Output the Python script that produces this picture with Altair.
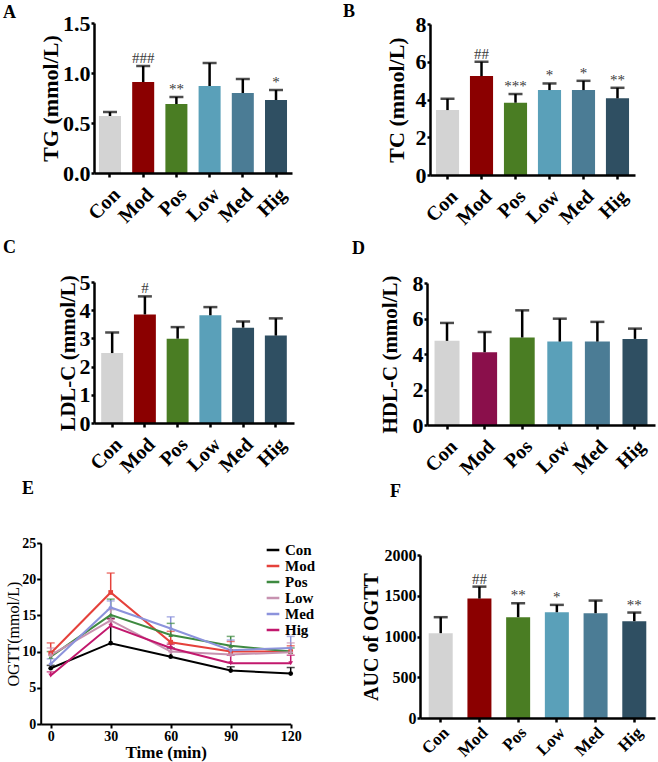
import altair as alt
import pandas as pd

# ---------------------------------------------------------------- data
groups = ["Con", "Mod", "Pos", "Low", "Med", "Hig"]

tg_mean = [0.57, 0.91, 0.69, 0.87, 0.80, 0.73]
tg_sd = [0.04, 0.16, 0.07, 0.23, 0.14, 0.10]
tg_sig = ["", "###", "**", "", "", "*"]

tc_mean = [3.44, 5.24, 3.83, 4.50, 4.50, 4.06]
tc_sd = [0.60, 0.76, 0.46, 0.35, 0.49, 0.56]
tc_sig = ["", "##", "***", "*", "*", "**"]

ldl_mean = [2.48, 3.85, 2.99, 3.82, 3.38, 3.10]
ldl_sd = [0.73, 0.64, 0.41, 0.29, 0.22, 0.61]
ldl_sig = ["", "#", "", "", "", ""]

hdl_mean = [4.74, 4.10, 4.93, 4.70, 4.70, 4.85]
hdl_sd = [1.01, 1.14, 1.53, 1.29, 1.11, 0.58]
hdl_sig = ["", "", "", "", "", ""]

auc_mean = [1041, 1465, 1237, 1298, 1286, 1188]
auc_sd = [196, 147, 171, 90, 155, 106]
auc_sig = ["", "##", "**", "*", "", "**"]

times = [0, 30, 60, 90, 120]
ogtt_mean = {
    "Con": [7.70, 11.16, 9.30, 7.38, 6.97],
    "Mod": [9.78, 18.17, 11.30, 10.00, 10.00],
    "Pos": [9.30, 15.08, 12.30, 10.80, 10.00],
    "Low": [9.50, 14.30, 10.00, 9.60, 9.90],
    "Med": [8.30, 16.10, 13.20, 10.20, 10.50],
    "Hig": [6.70, 13.56, 10.50, 8.40, 8.40],
}
ogtt_sd = {
    "Con": [0.40, 3.44, 1.20, 0.52, 0.83],
    "Mod": [1.42, 2.68, 1.50, 1.40, 0.80],
    "Pos": [0.70, 2.17, 1.60, 1.30, 0.50],
    "Low": [1.00, 1.50, 1.20, 1.10, 1.30],
    "Med": [0.70, 0.90, 1.60, 1.40, 1.60],
    "Hig": [0.50, 0.94, 0.50, 1.10, 1.10],
}

# ---------------------------------------------------------------- styling
SERIF = "Liberation Serif"
W, H = 658, 762

bar_colors = ["#d3d3d3", "#8b0000", "#4a7d23", "#5aa0b9", "#4b7c95", "#2f4f62"]
ldl_colors = ["#d3d3d3", "#8b0000", "#4a7d23", "#5aa0b9", "#2f4f62", "#2f4f62"]
hdl_colors = ["#d3d3d3", "#8a0f4b", "#4a7d23", "#5aa0b9", "#4b7c95", "#2f4f62"]
line_colors = ["#000000", "#e5413b", "#3e8a40", "#c792b0", "#8c93dc", "#c2186d"]
line_shapes = ["circle", "square", "triangle-up", "cross", "diamond", "triangle-down"]


def bar_panel(mean, sd, sig, colors, title, y_max, y_ticks, y_fmt,
              x_px, y_px, pad_inner, pad_outer,
              tick_font=22, label_font=20, title_font=22, title_pad=4,
              label_pad=7):
    df = pd.DataFrame({
        "group": groups,
        "mean": mean,
        "upper": [m + s for m, s in zip(mean, sd)],
        "sig": sig,
    })
    xs = alt.Scale(domain=groups, range=list(x_px),
                   paddingInner=pad_inner, paddingOuter=pad_outer)
    ys = alt.Scale(domain=[0, y_max], range=list(y_px), nice=False, zero=True)

    # axes sit at the panel's own origin, pushed inward from the canvas edges
    x_axis = alt.Axis(
        orient="bottom", title=None, labelAngle=315, labelAlign="right",
        labelBaseline="top",
        labelFont=SERIF, labelFontWeight="bold", labelFontSize=label_font,
        labelColor="black", labelPadding=label_pad,
        domainColor="black", domainWidth=2.5,
        tickColor="black", tickWidth=2.5, tickSize=4,
        offset=y_px[0] - H, zindex=1,
    )
    y_axis = alt.Axis(
        orient="left", title=title, values=y_ticks, format=y_fmt, grid=False,
        labelFont=SERIF, labelFontWeight="bold", labelFontSize=tick_font,
        labelColor="black", labelPadding=1,
        titleFont=SERIF, titleFontWeight="bold", titleFontSize=title_font,
        titleColor="black", titlePadding=title_pad,
        domainColor="black", domainWidth=2.5,
        tickColor="black", tickWidth=2.5, tickSize=3,
        offset=-x_px[0], zindex=1,
    )
    X = alt.X("group:N", scale=xs, axis=x_axis, sort=groups)

    base = alt.Chart(df)
    bars = base.mark_bar().encode(
        x=X,
        y=alt.Y("mean:Q", scale=ys, axis=y_axis),
        color=alt.Color("group:N", scale=alt.Scale(domain=groups, range=colors),
                        legend=None),
    )
    stems = base.mark_rule(color="black", strokeWidth=2.5).encode(
        x=X, y=alt.Y("mean:Q", scale=ys, axis=y_axis), y2="upper:Q",
    )
    caps = base.mark_tick(color="black", thickness=2.5, size=14,
                          orient="horizontal").encode(
        x=X, y=alt.Y("upper:Q", scale=ys, axis=y_axis),
    )
    marks = base.mark_text(font=SERIF, fontSize=15, color="#3a3a3a",
                           baseline="alphabetic", dy=-3).encode(
        x=X, y=alt.Y("upper:Q", scale=ys, axis=y_axis), text="sig:N",
    )
    return alt.layer(bars, stems, caps, marks)


panel_a = bar_panel(tg_mean, tg_sd, tg_sig, bar_colors, "TG (mmol/L)",
                    1.5, [0, 0.5, 1.0, 1.5], ".1f",
                    (94, 292), (173, 23), 0.337, 0.15, title_pad=0)
panel_b = bar_panel(tc_mean, tc_sd, tc_sig, bar_colors, "TC (mmol/L)",
                    8, [0, 2, 4, 6, 8], "d",
                    (430, 635), (175, 24), 0.32, 0.175, title_pad=7)
panel_c = bar_panel(ldl_mean, ldl_sd, ldl_sig, ldl_colors, "LDL-C (mmol/L)",
                    5, [0, 1, 2, 3, 4, 5], "d",
                    (94, 294), (423, 282), 0.33, 0.22, title_font=21,
                    title_pad=1)
panel_d = bar_panel(hdl_mean, hdl_sd, hdl_sig, hdl_colors, "HDL-C (mmol/L)",
                    8, [0, 2, 4, 6, 8], "d",
                    (427, 655), (425, 283), 0.335, 0.2, title_font=21,
                    title_pad=12)
panel_f = bar_panel(auc_mean, auc_sd, auc_sig, bar_colors, "AUC of OGTT",
                    2000, [0, 500, 1000, 1500, 2000], "d",
                    (420, 655), (718, 555), 0.38, 0.225,
                    tick_font=16, label_font=17, title_font=20, title_pad=3,
                    label_pad=2)

# ---------------------------------------------------------------- OGTT curves
rows = []
for g in groups:
    for t, m, s in zip(times, ogtt_mean[g], ogtt_sd[g]):
        rows.append({"group": g, "time": t, "mean": m, "upper": m + s})
ogtt = pd.DataFrame(rows)

ex = alt.Scale(domain=[-5, 120], range=[40.7, 290.7], nice=False, zero=False)
ey = alt.Scale(domain=[0, 25], range=[724, 543], nice=False, zero=True)
ecol = alt.Scale(domain=groups, range=line_colors)

e_x_axis = alt.Axis(
    orient="bottom", title="Time (min)", values=times, grid=False,
    labelFlush=False,
    labelFont=SERIF, labelFontWeight="bold", labelFontSize=14,
    labelColor="black", labelPadding=1,
    titleFont=SERIF, titleFontWeight="bold", titleFontSize=17,
    titleColor="black", titleY=28, titleBaseline="middle",
    domainColor="black", domainWidth=2, tickColor="black", tickWidth=2,
    tickSize=4, offset=724 - H, zindex=1,
)
e_y_axis = alt.Axis(
    orient="left", title="OGTT(mmol/L)", values=[0, 5, 10, 15, 20, 25],
    grid=False,
    labelFont=SERIF, labelFontWeight="bold", labelFontSize=14,
    labelColor="black", labelPadding=1,
    titleFont=SERIF, titleFontWeight="normal", titleFontSize=16,
    titleColor="black", titlePadding=0,
    domainColor="black", domainWidth=2, tickColor="black", tickWidth=2,
    tickSize=4, offset=-40.7, zindex=1,
)
e_legend = alt.Legend(
    orient="none", legendX=265, legendY=542, title=None,
    symbolType="stroke", symbolStrokeWidth=2.5, symbolSize=160,
    labelFont=SERIF, labelFontWeight="bold", labelFontSize=15,
    labelColor="black", labelOffset=4, rowPadding=-1.8,
)
EX = alt.X("time:Q", scale=ex, axis=e_x_axis)


def e_color(legend=None):
    return alt.Color("group:N", scale=ecol, sort=groups, legend=legend)


e_base = alt.Chart(ogtt)
e_lines = e_base.mark_line(strokeWidth=2).encode(
    x=EX, y=alt.Y("mean:Q", scale=ey, axis=e_y_axis), color=e_color(e_legend),
    order=alt.Order("time:Q"),
)
e_points = e_base.mark_point(filled=True, size=22, opacity=1).encode(
    x=EX, y=alt.Y("mean:Q", scale=ey, axis=e_y_axis), color=e_color(),
    shape=alt.Shape("group:N",
                    scale=alt.Scale(domain=groups, range=line_shapes),
                    legend=None),
)
e_stems = e_base.mark_rule(strokeWidth=1.5).encode(
    x=EX, y=alt.Y("mean:Q", scale=ey, axis=e_y_axis), y2="upper:Q",
    color=e_color(),
)
e_caps = e_base.mark_tick(thickness=1.5, size=8, orient="horizontal").encode(
    x=EX, y=alt.Y("upper:Q", scale=ey, axis=e_y_axis), color=e_color(),
)
# colour kept per layer so that only the line layer contributes a legend
panel_e = alt.layer(e_stems, e_caps, e_lines, e_points).resolve_scale(
    color="independent", shape="independent"
).resolve_legend(color="independent", shape="independent")

# ---------------------------------------------------------------- panel letters
letters = ["A", "B", "C", "D", "E", "F"]
letter_xy = [(3, 13), (343, 12), (3, 248), (352, 249), (22, 489), (390, 492)]
letter_layers = [
    alt.Chart(pd.DataFrame({"letter": [l]})).mark_text(
        font=SERIF, fontWeight="bold", fontSize=18, color="black",
        align="left", baseline="middle",
    ).encode(x=alt.value(px), y=alt.value(py), text="letter:N")
    for l, (px, py) in zip(letters, letter_xy)
]

chart = alt.layer(
    panel_a, panel_b, panel_c, panel_d, panel_e, panel_f, *letter_layers
).resolve_scale(
    x="independent", y="independent", color="independent", shape="independent"
).resolve_axis(
    x="independent", y="independent"
).resolve_legend(
    color="independent", shape="independent"
).properties(
    width=W, height=H, padding=0,
    autosize=alt.AutoSizeParams(type="none"),
).configure_view(stroke=None)

chart.save("out.html", embed_options={"renderer": "svg", "actions": False})
